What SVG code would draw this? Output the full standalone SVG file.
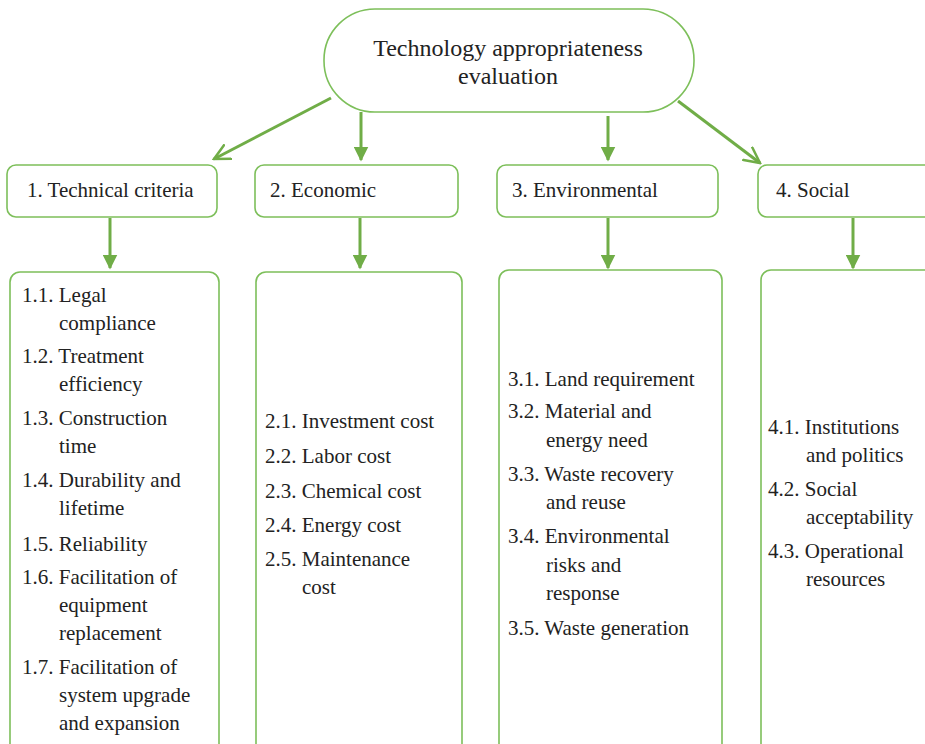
<svg xmlns="http://www.w3.org/2000/svg" width="925" height="744" viewBox="0 0 925 744">
<defs>
<marker id="tri" viewBox="0 0 10 10" refX="9" refY="5" markerWidth="5" markerHeight="5" orient="auto" markerUnits="strokeWidth">
<path d="M0,0 L10,5 L0,10 z" fill="#70ad47"/>
</marker>
<marker id="vee" viewBox="0 0 10 10" refX="9" refY="5" markerWidth="6" markerHeight="6" orient="auto" markerUnits="strokeWidth">
<path d="M0,0.5 L9,5 L0,9.5" fill="none" stroke="#70ad47" stroke-width="1.4"/>
</marker>
</defs>
<style>
.box{fill:#fff;stroke:#7dbf5a;stroke-width:1.6}
.c{stroke:#70ad47;stroke-width:3;fill:none}
</style>
<rect width="925" height="744" fill="#fff"/>
<g id="connectors">
<line class="c" x1="331" y1="98" x2="214" y2="159" marker-end="url(#vee)"/>
<line class="c" x1="361" y1="112" x2="361" y2="160" marker-end="url(#tri)"/>
<line class="c" x1="608" y1="116" x2="608" y2="160" marker-end="url(#tri)"/>
<line class="c" x1="678" y1="101" x2="760" y2="163" marker-end="url(#vee)"/>
<line class="c" x1="110" y1="218" x2="110" y2="268" marker-end="url(#tri)"/>
<line class="c" x1="360" y1="218" x2="360" y2="268" marker-end="url(#tri)"/>
<line class="c" x1="608" y1="218" x2="608" y2="268" marker-end="url(#tri)"/>
<line class="c" x1="853" y1="218" x2="853" y2="268" marker-end="url(#tri)"/>
</g>
<g id="root">
<rect class="box" x="324" y="9" width="370" height="103" rx="51" ry="51"/>
<text x="508" y="56" text-anchor="middle" font-family="Liberation Serif" font-size="24" fill="#222">Technology appropriateness</text>
<text x="508" y="84" text-anchor="middle" font-family="Liberation Serif" font-size="24" fill="#222">evaluation</text>
</g>
<g id="cat1">
<rect class="box" x="7" y="165" width="210" height="52" rx="9"/>
<text x="27" y="197" font-family="Liberation Serif" font-size="21" fill="#222">1. Technical criteria</text>
</g>
<g id="cat2">
<rect class="box" x="255" y="165" width="203" height="52" rx="9"/>
<text x="270" y="197" font-family="Liberation Serif" font-size="21" fill="#222">2. Economic</text>
</g>
<g id="cat3">
<rect class="box" x="497" y="165" width="221" height="52" rx="9"/>
<text x="512" y="197" font-family="Liberation Serif" font-size="21" fill="#222">3. Environmental</text>
</g>
<g id="cat4">
<rect class="box" x="758" y="165" width="180" height="52" rx="9"/>
<text x="776" y="197" font-family="Liberation Serif" font-size="21" fill="#222">4. Social</text>
</g>
<g id="list1">
<rect class="box" x="10" y="272" width="209" height="490" rx="10"/>
<text x="22" y="302" font-family="Liberation Serif" font-size="21" fill="#222">1.1. Legal</text>
<text x="59" y="330" font-family="Liberation Serif" font-size="21" fill="#222">compliance</text>
<text x="22" y="363" font-family="Liberation Serif" font-size="21" fill="#222">1.2. Treatment</text>
<text x="59" y="391" font-family="Liberation Serif" font-size="21" fill="#222">efficiency</text>
<text x="22" y="425" font-family="Liberation Serif" font-size="21" fill="#222">1.3. Construction</text>
<text x="59" y="453" font-family="Liberation Serif" font-size="21" fill="#222">time</text>
<text x="22" y="487" font-family="Liberation Serif" font-size="21" fill="#222">1.4. Durability and</text>
<text x="59" y="515" font-family="Liberation Serif" font-size="21" fill="#222">lifetime</text>
<text x="22" y="551" font-family="Liberation Serif" font-size="21" fill="#222">1.5. Reliability</text>
<text x="22" y="584" font-family="Liberation Serif" font-size="21" fill="#222">1.6. Facilitation of</text>
<text x="59" y="612" font-family="Liberation Serif" font-size="21" fill="#222">equipment</text>
<text x="59" y="640" font-family="Liberation Serif" font-size="21" fill="#222">replacement</text>
<text x="22" y="674" font-family="Liberation Serif" font-size="21" fill="#222">1.7. Facilitation of</text>
<text x="59" y="702" font-family="Liberation Serif" font-size="21" fill="#222">system upgrade</text>
<text x="59" y="730" font-family="Liberation Serif" font-size="21" fill="#222">and expansion</text>
</g>
<g id="list2">
<rect class="box" x="256" y="272" width="206" height="490" rx="10"/>
<text x="265" y="428" font-family="Liberation Serif" font-size="21" fill="#222">2.1. Investment cost</text>
<text x="265" y="463" font-family="Liberation Serif" font-size="21" fill="#222">2.2. Labor cost</text>
<text x="265" y="498" font-family="Liberation Serif" font-size="21" fill="#222">2.3. Chemical cost</text>
<text x="265" y="532" font-family="Liberation Serif" font-size="21" fill="#222">2.4. Energy cost</text>
<text x="265" y="566" font-family="Liberation Serif" font-size="21" fill="#222">2.5. Maintenance</text>
<text x="302" y="594" font-family="Liberation Serif" font-size="21" fill="#222">cost</text>
</g>
<g id="list3">
<rect class="box" x="499" y="270" width="223" height="490" rx="10"/>
<text x="508" y="386" font-family="Liberation Serif" font-size="21" fill="#222">3.1. Land requirement</text>
<text x="508" y="418" font-family="Liberation Serif" font-size="21" fill="#222">3.2. Material and</text>
<text x="546" y="447" font-family="Liberation Serif" font-size="21" fill="#222">energy need</text>
<text x="508" y="481" font-family="Liberation Serif" font-size="21" fill="#222">3.3. Waste recovery</text>
<text x="546" y="509" font-family="Liberation Serif" font-size="21" fill="#222">and reuse</text>
<text x="508" y="543" font-family="Liberation Serif" font-size="21" fill="#222">3.4. Environmental</text>
<text x="546" y="572" font-family="Liberation Serif" font-size="21" fill="#222">risks and</text>
<text x="546" y="600" font-family="Liberation Serif" font-size="21" fill="#222">response</text>
<text x="508" y="635" font-family="Liberation Serif" font-size="21" fill="#222">3.5. Waste generation</text>
</g>
<g id="list4">
<rect class="box" x="761" y="270" width="180" height="490" rx="10"/>
<text x="768" y="434" font-family="Liberation Serif" font-size="21" fill="#222">4.1. Institutions</text>
<text x="806" y="462" font-family="Liberation Serif" font-size="21" fill="#222">and politics</text>
<text x="768" y="496" font-family="Liberation Serif" font-size="21" fill="#222">4.2. Social</text>
<text x="806" y="524" font-family="Liberation Serif" font-size="21" fill="#222">acceptability</text>
<text x="768" y="558" font-family="Liberation Serif" font-size="21" fill="#222">4.3. Operational</text>
<text x="806" y="586" font-family="Liberation Serif" font-size="21" fill="#222">resources</text>
</g>
</svg>
